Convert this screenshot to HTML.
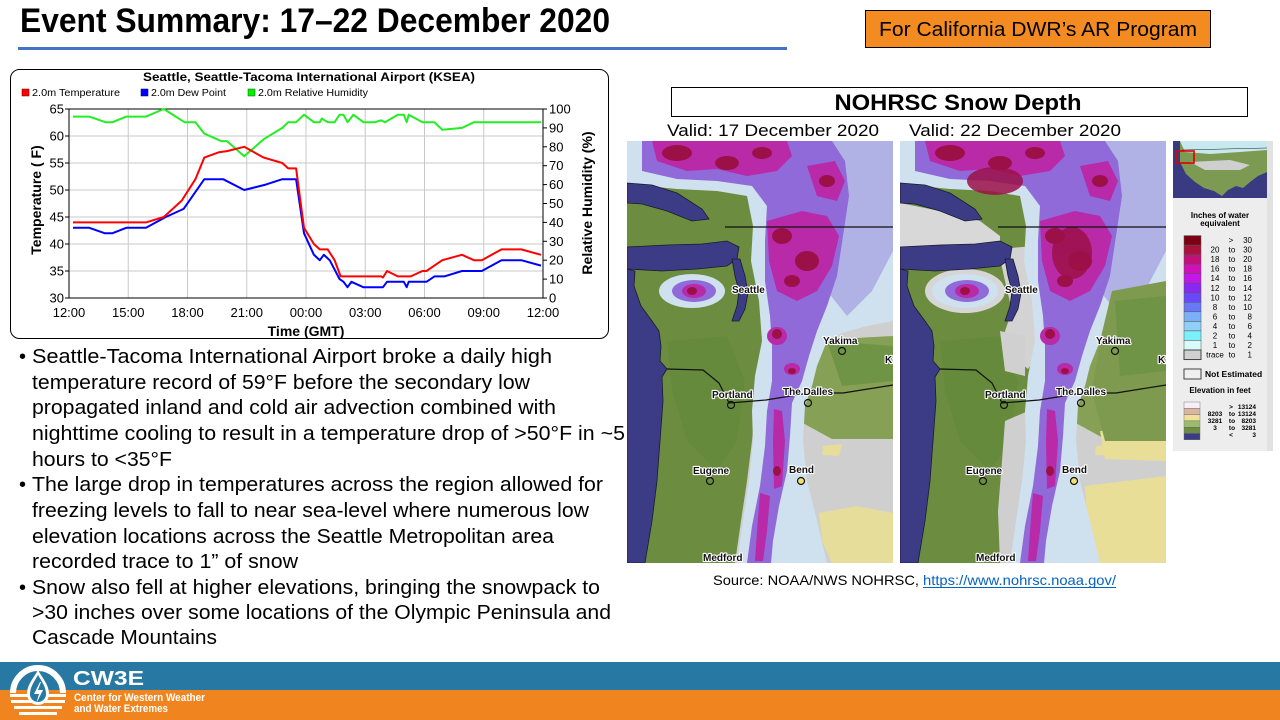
<!DOCTYPE html>
<html><head><meta charset="utf-8">
<style>
html,body{margin:0;padding:0;background:#fff;}
svg{display:block;}
text{font-family:"Liberation Sans",Arial,sans-serif;}
</style></head>
<body>
<svg width="1280" height="720" viewBox="0 0 1280 720" xmlns="http://www.w3.org/2000/svg">
<defs>
<clipPath id="mc"><rect x="0" y="0" width="266" height="422"/></clipPath>
<g id="land">
  <rect width="266" height="422" fill="#cfcfcf"/>
  <path d="M175,200 L266,195 L266,298 L205,298 L172,280 Z" fill="#86a055"/>
  <path d="M200,200 L266,205 L266,240 L215,245 Z" fill="#6f9445"/>
  <path d="M192,372 L230,365 L266,372 L266,422 L205,422 L195,400 Z" fill="#e6dd9a"/>
  <path d="M196,305 L215,303 L212,315 L195,314 Z" fill="#e6dd9a"/>
  <path d="M0,40 L60,48 L100,45 L130,50 L138,90 L135,140 L140,190 L137,230 L128,270 L125,300 L120,340 L114,380 L108,422 L0,422 Z" fill="#6c8d40"/>
  <path d="M40,200 L100,195 L118,240 L110,300 L90,330 L60,300 L45,250 Z" fill="#668a3c"/>
</g>
<g id="snow">
  <path d="M0,0 L266,0 L266,180 L240,185 L215,192 L200,200 L190,225 L185,245 L178,265 L176,300 L180,340 L190,380 L200,422 L110,422 L116,380 L122,340 L126,300 L125,270 L128,235 L135,200 L132,160 L124,120 L126,85 L120,55 L90,50 L50,48 L20,45 L0,42 Z" fill="#cfe0ee"/>
  <path d="M160,0 L266,0 L266,110 L245,150 L220,175 L200,150 Z" fill="#b0b2e6"/>
  <path d="M15,0 L205,0 L218,20 L222,55 L216,95 L210,135 L200,165 L190,190 L182,215 L175,240 L165,262 L163,295 L160,330 L152,365 L146,400 L144,422 L120,422 L125,385 L133,345 L138,305 L140,270 L145,240 L145,205 L143,175 L138,140 L138,100 L140,65 L125,45 L90,40 L50,38 L15,30 Z" fill="#8f6ad8"/>
  <g fill="#b82aa8">
    <path d="M25,0 L160,0 L165,15 L150,30 L120,35 L90,28 L60,30 L30,20 Z"/>
    <path d="M140,80 L175,70 L200,75 L212,95 L205,125 L190,150 L170,160 L150,150 L142,120 Z"/>
    <path d="M180,25 L208,20 L218,40 L210,60 L190,55 Z"/>
    <ellipse cx="150" cy="195" rx="10" ry="9"/>
    <ellipse cx="165" cy="228" rx="8" ry="6"/>
    <path d="M147,268 L155,270 L158,300 L155,345 L147,348 L146,300 Z"/>
    <path d="M133,352 L143,355 L140,390 L136,420 L128,420 L130,390 Z"/>
  </g>
  <g fill="#9c1048">
    <ellipse cx="50" cy="12" rx="15" ry="8"/>
    <ellipse cx="100" cy="22" rx="12" ry="7"/>
    <ellipse cx="135" cy="12" rx="10" ry="6"/>
    <ellipse cx="155" cy="95" rx="10" ry="8"/>
    <ellipse cx="180" cy="120" rx="12" ry="10"/>
    <ellipse cx="165" cy="140" rx="8" ry="6"/>
    <ellipse cx="200" cy="40" rx="8" ry="6"/>
    <ellipse cx="150" cy="193" rx="5" ry="5"/>
    <ellipse cx="165" cy="230" rx="4" ry="3"/>
    <ellipse cx="150" cy="330" rx="4" ry="5"/>
  </g>
  <ellipse cx="65" cy="150" rx="33" ry="17" fill="#cfe0ee"/>
  <ellipse cx="67" cy="150" rx="22" ry="11" fill="#8f6ad8"/>
  <ellipse cx="67" cy="150" rx="12" ry="7" fill="#b82aa8"/>
  <ellipse cx="65" cy="150" rx="5" ry="4" fill="#9c1048"/>
</g>
<g id="water">
  <g fill="#3c3c86" stroke="#1a1a30" stroke-width="0.8">
    <path d="M0,42 L25,44 L50,52 L75,68 L82,78 L65,80 L40,70 L15,63 L0,62 Z"/>
    <path d="M0,106 L40,104 L75,103 L100,100 L112,106 L110,118 L100,125 L70,128 L35,130 L0,128 Z"/>
    <path d="M105,118 L113,118 L118,135 L121,152 L118,168 L112,180 L105,180 L110,165 L112,150 L108,135 Z"/>
    <path d="M0,128 L8,130 L7,145 L14,165 L25,180 L32,190 L34,205 L33,220 L40,228 L35,236 L36,260 L33,300 L30,340 L25,380 L18,422 L0,422 Z"/>
  </g>
  <path d="M98,86 L266,86" stroke="#111" stroke-width="1.2"/>
  <path d="M40,228 L76,229 L92,242 L102,262 L139,259 L182,252 L216,252 L266,244" stroke="#111" stroke-width="1.2" fill="none"/>
</g>
<g id="labels">
  <g font-size="10" font-weight="bold" fill="#111" stroke="#fff" stroke-width="2.2" paint-order="stroke" stroke-linejoin="round">
    <text x="105" y="152">Seattle</text>
    <text x="196" y="203">Yakima</text>
    <text x="85" y="257">Portland</text>
    <text x="156" y="254">The Dalles</text>
    <text x="66" y="333">Eugene</text>
    <text x="162" y="332">Bend</text>
    <text x="76" y="420">Medford</text>
    <text x="258" y="222">Ke</text>
  </g>
  <g fill="none" stroke="#111" stroke-width="1.2">
    <circle cx="215" cy="210" r="3.5"/>
    <circle cx="104" cy="264" r="3.5"/>
    <circle cx="181" cy="262" r="3.5"/>
    <circle cx="83" cy="340" r="3.5"/>
    <circle cx="174" cy="340" r="3.5" fill="#f0e070"/>
  </g>
</g>
</defs>

<!-- Title -->
<text x="20" y="32" font-size="34" font-weight="bold" textLength="590" lengthAdjust="spacingAndGlyphs">Event Summary: 17–22 December 2020</text>
<rect x="18" y="47" width="769" height="3" fill="#4472c4"/>

<!-- Orange box -->
<rect x="865.5" y="10.5" width="345" height="37" fill="#f38b20" stroke="#000" stroke-width="1"/>
<text x="1038" y="36" font-size="20" text-anchor="middle" textLength="318" lengthAdjust="spacingAndGlyphs">For California DWR’s AR Program</text>

<!-- Chart -->
<rect x="10.5" y="69.5" width="598" height="269" rx="9" fill="#fff" stroke="#000" stroke-width="1"/>
<text x="309" y="81" font-size="12" font-weight="bold" text-anchor="middle" textLength="332" lengthAdjust="spacingAndGlyphs">Seattle, Seattle-Tacoma International Airport (KSEA)</text>
<rect x="22" y="89" width="7" height="7" fill="#ff0000" stroke="#600" stroke-width="0.5"/>
<text x="32" y="96" font-size="10" textLength="88" lengthAdjust="spacingAndGlyphs">2.0m Temperature</text>
<rect x="141" y="89" width="7" height="7" fill="#0000ff" stroke="#006" stroke-width="0.5"/>
<text x="151" y="96" font-size="10" textLength="75" lengthAdjust="spacingAndGlyphs">2.0m Dew Point</text>
<rect x="248" y="89" width="7" height="7" fill="#00ee00" stroke="#060" stroke-width="0.5"/>
<text x="258" y="96" font-size="10" textLength="110" lengthAdjust="spacingAndGlyphs">2.0m Relative Humidity</text>

<g stroke="#c8c8c8" stroke-width="1">
  <line x1="128.25" y1="109" x2="128.25" y2="298"/>
  <line x1="187.5" y1="109" x2="187.5" y2="298"/>
  <line x1="246.75" y1="109" x2="246.75" y2="298"/>
  <line x1="306" y1="109" x2="306" y2="298"/>
  <line x1="365.25" y1="109" x2="365.25" y2="298"/>
  <line x1="424.5" y1="109" x2="424.5" y2="298"/>
  <line x1="483.75" y1="109" x2="483.75" y2="298"/>
  <line x1="69" y1="136" x2="543" y2="136"/>
  <line x1="69" y1="163" x2="543" y2="163"/>
  <line x1="69" y1="190" x2="543" y2="190"/>
  <line x1="69" y1="217" x2="543" y2="217"/>
  <line x1="69" y1="244" x2="543" y2="244"/>
  <line x1="69" y1="271" x2="543" y2="271"/>
</g>
<rect x="69" y="109" width="474" height="189" fill="none" stroke="#000" stroke-width="1"/>
<g stroke="#000" stroke-width="1">
  <line x1="65" y1="109" x2="69" y2="109"/><line x1="65" y1="136" x2="69" y2="136"/><line x1="65" y1="163" x2="69" y2="163"/><line x1="65" y1="190" x2="69" y2="190"/><line x1="65" y1="217" x2="69" y2="217"/><line x1="65" y1="244" x2="69" y2="244"/><line x1="65" y1="271" x2="69" y2="271"/><line x1="65" y1="298" x2="69" y2="298"/>
  <line x1="543" y1="109" x2="547" y2="109"/><line x1="543" y1="127.9" x2="547" y2="127.9"/><line x1="543" y1="146.8" x2="547" y2="146.8"/><line x1="543" y1="165.7" x2="547" y2="165.7"/><line x1="543" y1="184.6" x2="547" y2="184.6"/><line x1="543" y1="203.5" x2="547" y2="203.5"/><line x1="543" y1="222.4" x2="547" y2="222.4"/><line x1="543" y1="241.3" x2="547" y2="241.3"/><line x1="543" y1="260.2" x2="547" y2="260.2"/><line x1="543" y1="279.1" x2="547" y2="279.1"/><line x1="543" y1="298" x2="547" y2="298"/>
</g>
<g font-size="13" text-anchor="end">
  <text x="64" y="113.5">65</text><text x="64" y="140.5">60</text><text x="64" y="167.5">55</text><text x="64" y="194.5">50</text><text x="64" y="221.5">45</text><text x="64" y="248.5">40</text><text x="64" y="275.5">35</text><text x="64" y="302.5">30</text>
</g>
<g font-size="13" text-anchor="start">
  <text x="549" y="113.5">100</text><text x="549" y="132.4">90</text><text x="549" y="151.3">80</text><text x="549" y="170.2">70</text><text x="549" y="189.1">60</text><text x="549" y="208">50</text><text x="549" y="226.9">40</text><text x="549" y="245.8">30</text><text x="549" y="264.7">20</text><text x="549" y="283.6">10</text><text x="549" y="302.5">0</text>
</g>
<g font-size="13" text-anchor="middle">
  <text x="69" y="317">12:00</text><text x="128.25" y="317">15:00</text><text x="187.5" y="317">18:00</text><text x="246.75" y="317">21:00</text><text x="306" y="317">00:00</text><text x="365.25" y="317">03:00</text><text x="424.5" y="317">06:00</text><text x="483.75" y="317">09:00</text><text x="543" y="317">12:00</text>
</g>
<text x="306" y="336" font-size="14" font-weight="bold" text-anchor="middle">Time (GMT)</text>
<text transform="translate(41,200) rotate(-90)" font-size="14" font-weight="bold" text-anchor="middle">Temperature ( F)</text>
<text transform="translate(592,203) rotate(-90)" font-size="14" font-weight="bold" text-anchor="middle">Relative Humidity (%)</text>

<g fill="none" stroke-width="2" stroke-linejoin="round">
<path stroke="#22ee22" d="M73,116.6 L89.3,116.6 L105.5,122.2 L112.5,122.2 L126.3,116.6 L146,116.6 L163.8,109 L184.5,122.2 L195.4,122.2 L204.3,133.6 L221.1,141.1 L227,141.1 L244.2,156.3 L263.7,139.2 L282.3,127.9 L288.2,122.2 L296.1,122.2 L304,114.7 L313.9,122.2 L319.8,122.2 L321.8,118.5 L327.7,122.2 L334.6,122.2 L339.6,114.7 L343.5,114.7 L347.5,122.2 L353.4,114.7 L363.3,122.2 L375.1,122.2 L381.1,120.3 L385,122.2 L397.8,114.7 L403.8,114.7 L406.7,122.2 L408.7,114.7 L422.5,122.2 L434.4,122.2 L442.3,129.8 L462,127.9 L473.9,122.2 L541,122.2"/>
<path stroke="#0000ff" d="M73,227.8 L89.3,227.8 L104.6,233.2 L112.5,233.2 L126.3,227.8 L146,227.8 L165.8,217 L183.6,208.9 L204.3,179.2 L223.1,179.2 L244.2,190 L265.7,184.6 L282.3,179.2 L296.1,179.2 L304,233.2 L313.9,254.8 L319.8,260.2 L323.8,254.8 L329.7,260.2 L339.6,279.1 L343.5,281.8 L347.5,287.2 L351.4,281.8 L363.3,287.2 L383,287.2 L387,281.8 L403.8,281.8 L406.7,287.2 L408.7,281.8 L426.5,281.8 L434.4,276.4 L444.3,276.4 L462,271 L481.8,271 L501.5,260.2 L521.3,260.2 L541,265.6"/>
<path stroke="#ff0000" d="M73,222.4 L146,222.4 L163.8,217 L181.6,200.8 L195.4,179.2 L204.3,157.6 L219.1,152.2 L227,151.1 L244.2,146.8 L263.7,157.6 L282.3,163 L288.2,168.4 L296.1,168.4 L304,227.8 L313.9,244 L319.8,249.4 L327.7,249.4 L334.6,260.2 L340.6,276.4 L381.1,276.4 L383,277.5 L387,271 L397.8,276.4 L410.7,276.4 L422.5,271 L426.5,271 L434.4,265.6 L442.3,260.2 L462,254.8 L473.9,260.2 L481.8,260.2 L501.5,249.4 L521.3,249.4 L541,254.8"/>
</g>

<!-- Bullets -->
<g font-size="20" fill="#000">
  <text x="19" y="363">•</text>
  <text x="32" y="363" textLength="520" lengthAdjust="spacingAndGlyphs">Seattle-Tacoma International Airport broke a daily high</text>
  <text x="32" y="389" textLength="498" lengthAdjust="spacingAndGlyphs">temperature record of 59°F before the secondary low</text>
  <text x="32" y="414" textLength="524" lengthAdjust="spacingAndGlyphs">propagated inland and cold air advection combined with</text>
  <text x="32" y="440" textLength="593" lengthAdjust="spacingAndGlyphs">nighttime cooling to result in a temperature drop of &gt;50°F in ~5</text>
  <text x="32" y="466" textLength="140" lengthAdjust="spacingAndGlyphs">hours to &lt;35°F</text>
  <text x="19" y="491">•</text>
  <text x="32" y="491" textLength="571" lengthAdjust="spacingAndGlyphs">The large drop in temperatures across the region allowed for</text>
  <text x="32" y="517" textLength="557" lengthAdjust="spacingAndGlyphs">freezing levels to fall to near sea-level where numerous low</text>
  <text x="32" y="543" textLength="522" lengthAdjust="spacingAndGlyphs">elevation locations across the Seattle Metropolitan area</text>
  <text x="32" y="568" textLength="266" lengthAdjust="spacingAndGlyphs">recorded trace to 1” of snow</text>
  <text x="19" y="594">•</text>
  <text x="32" y="594" textLength="568" lengthAdjust="spacingAndGlyphs">Snow also fell at higher elevations, bringing the snowpack to</text>
  <text x="32" y="619" textLength="579" lengthAdjust="spacingAndGlyphs">&gt;30 inches over some locations of the Olympic Peninsula and</text>
  <text x="32" y="644" textLength="185" lengthAdjust="spacingAndGlyphs">Cascade Mountains</text>
</g>

<!-- NOHRSC header -->
<rect x="671.5" y="87.5" width="576" height="29" fill="#fff" stroke="#000" stroke-width="1"/>
<text x="958" y="110" font-size="22" font-weight="bold" text-anchor="middle" textLength="247" lengthAdjust="spacingAndGlyphs">NOHRSC Snow Depth</text>
<text x="667" y="136" font-size="17" textLength="212" lengthAdjust="spacingAndGlyphs">Valid: 17 December 2020</text>
<text x="909" y="136" font-size="17" textLength="212" lengthAdjust="spacingAndGlyphs">Valid: 22 December 2020</text>

<!-- Map 1 -->
<g transform="translate(627,141)" clip-path="url(#mc)">
  <use href="#land"/>
  <use href="#snow"/>
  <use href="#water"/>
  <use href="#labels"/>
</g>
<!-- Map 2 -->
<g transform="translate(900,141)" clip-path="url(#mc)">
  <use href="#land"/>
  <path d="M98,108 L135,105 L140,150 L140,210 L128,228 L112,215 L105,190 L112,170 L105,140 Z" fill="#d3d3d3"/>
  <path d="M0,62 L40,70 L80,80 L100,95 L100,105 L40,104 L0,106 Z" fill="#d8d8d8"/>
  <path d="M105,280 L128,270 L125,320 L118,370 L112,422 L100,422 L98,370 L102,320 Z" fill="#cfcfcf"/>
  <path d="M100,190 L125,195 L125,235 L105,230 Z" fill="#d0d0d0"/>
  <path d="M185,345 L266,335 L266,422 L190,422 Z" fill="#e8de98"/>
  <path d="M200,290 L266,285 L266,320 L205,318 Z" fill="#e8de98"/>
  <ellipse cx="65" cy="150" rx="40" ry="22" fill="#d6d6d6"/>
  <use href="#snow"/>
  <g fill="#9c1048" opacity="0.85">
    <ellipse cx="95" cy="40" rx="28" ry="14"/>
    <ellipse cx="172" cy="112" rx="20" ry="26"/>
  </g>
  <path d="M212,150 L266,140 L266,300 L205,300 L192,250 L200,200 Z" fill="#7d9a4e"/>
  <path d="M215,160 L266,155 L266,230 L220,235 Z" fill="#6f9445"/>
  <use href="#water"/>
  <use href="#labels"/>
</g>

<!-- Legend panel -->
<rect x="1173" y="141" width="95" height="310" fill="#ededed"/>
<rect x="1267" y="141" width="6" height="310" fill="#e2e2e2"/>
<rect x="1173" y="141" width="94" height="57" fill="#3a3a82"/>
<path d="M1180,141 L1267,141 L1267,172 L1258,176 L1250,182 L1243,188 L1236,186 L1228,190 L1222,196 L1214,191 L1204,188 L1195,182 L1186,174 L1180,162 Z" fill="#7d9a52"/>
<path d="M1180,141 L1267,141 L1267,150 L1240,152 L1210,154 L1185,152 Z" fill="#c6e8ee"/>
<path d="M1190,162 L1230,160 L1250,165 L1240,170 L1205,170 Z" fill="#cfcfcf"/>
<path d="M1182,150 L1267,148" stroke="#222" stroke-width="0.6"/>
<rect x="1177" y="151" width="17" height="12" fill="none" stroke="#e00000" stroke-width="1.6"/>

<text x="1220" y="218" font-size="8" font-weight="bold" text-anchor="middle">Inches of water</text>
<text x="1220" y="226" font-size="8" font-weight="bold" text-anchor="middle">equivalent</text>
<g stroke="#555" stroke-width="0.5">
  <rect x="1184" y="235.6" width="17" height="9.53" fill="#7b0014"/>
  <rect x="1184" y="245.1" width="17" height="9.53" fill="#a8123c"/>
  <rect x="1184" y="254.7" width="17" height="9.53" fill="#c0107a"/>
  <rect x="1184" y="264.2" width="17" height="9.53" fill="#d010b8"/>
  <rect x="1184" y="273.7" width="17" height="9.53" fill="#c018e8"/>
  <rect x="1184" y="283.3" width="17" height="9.53" fill="#8a28f0"/>
  <rect x="1184" y="292.8" width="17" height="9.53" fill="#6a48f8"/>
  <rect x="1184" y="302.3" width="17" height="9.53" fill="#6878f8"/>
  <rect x="1184" y="311.8" width="17" height="9.53" fill="#7ab0f8"/>
  <rect x="1184" y="321.4" width="17" height="9.53" fill="#90d0f8"/>
  <rect x="1184" y="330.9" width="17" height="9.53" fill="#7af0f8"/>
  <rect x="1184" y="340.4" width="17" height="9.53" fill="#d8fafa"/>
  <rect x="1184" y="350" width="17" height="9.53" fill="#d0d0d0" stroke="#444" stroke-width="1"/>
</g>
<g font-size="8" fill="#000">
  <g text-anchor="middle">
    <text x="1215" y="252.6">20</text><text x="1215" y="262.2">18</text><text x="1215" y="271.7">16</text><text x="1215" y="281.2">14</text><text x="1215" y="290.8">12</text><text x="1215" y="300.3">10</text><text x="1215" y="309.8">8</text><text x="1215" y="319.3">6</text><text x="1215" y="328.9">4</text><text x="1215" y="338.4">2</text><text x="1215" y="347.9">1</text><text x="1215" y="357.5">trace</text>
    <text x="1231" y="243.1">&gt;</text>
    <text x="1232" y="252.6">to</text><text x="1232" y="262.2">to</text><text x="1232" y="271.7">to</text><text x="1232" y="281.2">to</text><text x="1232" y="290.8">to</text><text x="1232" y="300.3">to</text><text x="1232" y="309.8">to</text><text x="1232" y="319.3">to</text><text x="1232" y="328.9">to</text><text x="1232" y="338.4">to</text><text x="1232" y="347.9">to</text><text x="1232" y="357.5">to</text>
  </g>
  <g text-anchor="end">
    <text x="1252" y="243.1">30</text><text x="1252" y="252.6">30</text><text x="1252" y="262.2">20</text><text x="1252" y="271.7">18</text><text x="1252" y="281.2">16</text><text x="1252" y="290.8">14</text><text x="1252" y="300.3">12</text><text x="1252" y="309.8">10</text><text x="1252" y="319.3">8</text><text x="1252" y="328.9">6</text><text x="1252" y="338.4">4</text><text x="1252" y="347.9">2</text><text x="1252" y="357.5">1</text>
  </g>
</g>
<rect x="1184" y="369" width="17" height="10" fill="#f0f0f0" stroke="#444" stroke-width="1"/>
<text x="1205" y="377" font-size="8.5" font-weight="bold">Not Estimated</text>
<text x="1220" y="393" font-size="8" font-weight="bold" text-anchor="middle">Elevation in feet</text>
<g stroke="#666" stroke-width="0.4">
  <rect x="1184" y="402" width="16" height="6.3" fill="#f8eef8"/>
  <rect x="1184" y="408.3" width="16" height="6.3" fill="#dcb4a4"/>
  <rect x="1184" y="414.6" width="16" height="6.3" fill="#f0e098"/>
  <rect x="1184" y="420.9" width="16" height="6.3" fill="#9cbc6c"/>
  <rect x="1184" y="427.2" width="16" height="6.3" fill="#6c8c44"/>
  <rect x="1184" y="433.5" width="16" height="6.3" fill="#3c3c86"/>
</g>
<g font-size="6.5" font-weight="bold">
  <text x="1231" y="409" text-anchor="middle">&gt;</text><text x="1256" y="409" text-anchor="end">13124</text>
  <text x="1215" y="416" text-anchor="middle">8203</text><text x="1232" y="416" text-anchor="middle">to</text><text x="1256" y="416" text-anchor="end">13124</text>
  <text x="1215" y="423" text-anchor="middle">3281</text><text x="1232" y="423" text-anchor="middle">to</text><text x="1256" y="423" text-anchor="end">8203</text>
  <text x="1215" y="430" text-anchor="middle">3</text><text x="1232" y="430" text-anchor="middle">to</text><text x="1256" y="430" text-anchor="end">3281</text>
  <text x="1231" y="437" text-anchor="middle">&lt;</text><text x="1256" y="437" text-anchor="end">3</text>
</g>

<!-- Source -->
<text x="713" y="585" font-size="14" textLength="206" lengthAdjust="spacingAndGlyphs">Source: NOAA/NWS NOHRSC,</text>
<text x="923" y="585" font-size="14" fill="#0563c1" textLength="193" lengthAdjust="spacingAndGlyphs">https://www.nohrsc.noaa.gov/</text>
<rect x="923" y="587" width="193" height="1" fill="#0563c1"/>

<!-- Footer -->
<rect x="0" y="662" width="1280" height="28" fill="#2779a4"/>
<rect x="0" y="690" width="1280" height="30" fill="#f0851f"/>
<clipPath id="tophalf"><rect x="0" y="660" width="90" height="33"/></clipPath>
<circle cx="38" cy="693" r="25" fill="none" stroke="#fff" stroke-width="6" clip-path="url(#tophalf)"/>
<g fill="#fff">
  <rect x="10" y="694" width="56" height="3"/>
  <rect x="11" y="700" width="54" height="3"/>
  <rect x="14" y="706" width="48" height="3"/>
  <rect x="19" y="712" width="38" height="3"/>
  <path d="M38,670 C43,679 49,685 49,694 A11,11 0 0 1 27,694 C27,685 33,679 38,670 Z"/>
</g>
<path d="M38,675 C42,682 46,687 46,694 A8,8 0 0 1 30,694 C30,687 34,682 38,675 Z" fill="#2779a4"/>
<path d="M40,682 L34,694 L39,694 L36,704 L43,690 L38,690 L41,682 Z" fill="#fff"/>
<text x="73" y="685" font-size="20" font-weight="bold" fill="#fff" textLength="71" lengthAdjust="spacingAndGlyphs">CW3E</text>
<text x="74" y="701" font-size="11" font-weight="bold" fill="#fff" textLength="131" lengthAdjust="spacingAndGlyphs">Center for Western Weather</text>
<text x="74" y="712" font-size="11" font-weight="bold" fill="#fff" textLength="94" lengthAdjust="spacingAndGlyphs">and Water Extremes</text>
</svg>
</body></html>
